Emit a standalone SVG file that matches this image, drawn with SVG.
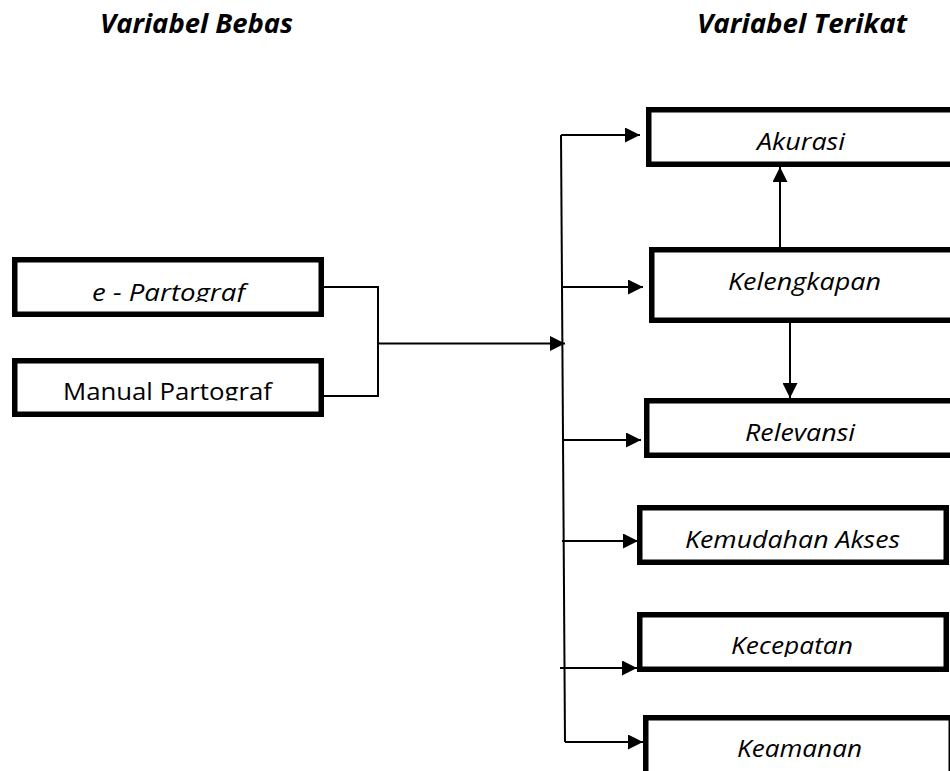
<svg xmlns="http://www.w3.org/2000/svg" width="950" height="771" viewBox="0 0 950 771">
<style>
.box{fill:#fff;stroke:#000;stroke-width:5.5}
.ln{fill:none;stroke:#000;stroke-width:2}
.t{font-family:"Open Sans","Liberation Sans",sans-serif;font-size:24px;font-style:italic;fill:#000}
.tn{font-family:"Open Sans","Liberation Sans",sans-serif;font-size:24px;fill:#000}
.h{font-family:"Open Sans","Liberation Sans",sans-serif;font-size:27px;font-style:italic;font-weight:bold;fill:#000}
</style>
<defs>
<marker id="ah" markerUnits="userSpaceOnUse" markerWidth="15" markerHeight="15" refX="15" refY="7.5" orient="auto">
<path d="M0,0 L15,7.5 L0,15 z" fill="#000"/>
</marker>
<clipPath id="c1"><rect x="0" y="0" width="950" height="302"/></clipPath>
<clipPath id="c2"><rect x="0" y="0" width="950" height="400.5"/></clipPath>
<clipPath id="c3"><rect x="0" y="0" width="950" height="657"/></clipPath>
</defs>
<g id="titles">
<text class="h" x="100" y="33" textLength="193" lengthAdjust="spacingAndGlyphs">Variabel Bebas</text>
<text class="h" x="697" y="33" textLength="210" lengthAdjust="spacingAndGlyphs">Variabel Terikat</text>
</g>
<g id="connectors">
<path class="ln" d="M324 287 H378 V396 H324"/>
<path class="ln" d="M378 343.5 H565" marker-end="url(#ah)"/>
<path class="ln" d="M561 135 L565 742"/>
<path class="ln" d="M561 135 H640" marker-end="url(#ah)"/>
<path class="ln" d="M563 287 H643" marker-end="url(#ah)"/>
<path class="ln" d="M563 440 H641" marker-end="url(#ah)"/>
<path class="ln" d="M562 541 H638" marker-end="url(#ah)"/>
<path class="ln" d="M560 668 H637" marker-end="url(#ah)"/>
<path class="ln" d="M565 742 H643" marker-end="url(#ah)"/>
<path class="ln" d="M780 247 V167" marker-end="url(#ah)"/>
<path class="ln" d="M790 323 V398" marker-end="url(#ah)"/>
</g>
<g id="e-partograf">
<rect class="box" x="14.75" y="259.75" width="306.5" height="54.5"/>
<text class="t" x="92" y="301" textLength="153" lengthAdjust="spacingAndGlyphs" clip-path="url(#c1)">e - Partograf</text>
</g>
<g id="manual-partograf">
<rect class="box" x="14.75" y="360.75" width="306.5" height="53.5"/>
<text class="tn" x="63" y="400" textLength="209" lengthAdjust="spacingAndGlyphs" clip-path="url(#c2)">Manual Partograf</text>
</g>
<g id="akurasi">
<rect class="box" x="648.75" y="109.75" width="320" height="54.5"/>
<text class="t" x="757" y="150" textLength="88" lengthAdjust="spacingAndGlyphs">Akurasi</text>
</g>
<g id="kelengkapan">
<rect class="box" x="651.75" y="249.75" width="320" height="70.5"/>
<text class="t" x="728" y="290" textLength="153" lengthAdjust="spacingAndGlyphs">Kelengkapan</text>
</g>
<g id="relevansi">
<rect class="box" x="646.75" y="400.75" width="320" height="54.5"/>
<text class="t" x="745" y="441" textLength="110" lengthAdjust="spacingAndGlyphs">Relevansi</text>
</g>
<g id="kemudahan-akses">
<rect class="box" x="639.75" y="507.75" width="306.5" height="54.5"/>
<text class="t" x="685" y="548" textLength="215" lengthAdjust="spacingAndGlyphs">Kemudahan Akses</text>
</g>
<g id="kecepatan">
<rect class="box" x="639.75" y="614.75" width="306.5" height="54.5"/>
<text class="t" x="731" y="654" textLength="122" lengthAdjust="spacingAndGlyphs" clip-path="url(#c3)">Kecepatan</text>
</g>
<g id="keamanan">
<rect class="box" x="645.75" y="717.75" width="305.5" height="60"/>
<text class="t" x="737" y="757" textLength="125" lengthAdjust="spacingAndGlyphs">Keamanan</text>
</g>
</svg>
